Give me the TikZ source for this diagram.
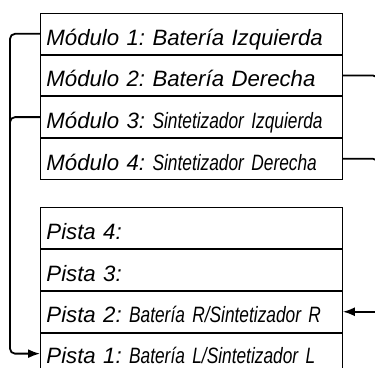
\documentclass[tikz,border=0pt]{standalone}
\usepackage{fontspec}
\setmainfont{Liberation Sans}
\newfontfamily\narrowfont[FakeStretch=0.78]{Liberation Sans}
\usetikzlibrary{positioning,arrows.meta}
\newcommand{\nrw}[1]{{\narrowfont\itshape #1}}
\frenchspacing

\begin{document}
\begin{tikzpicture}[x=1pt,y=1pt,>={Latex[length=12pt,width=9pt]},
  font=\fontsize{22.2}{26}\selectfont\itshape,
  row/.style={draw,line width=0.9pt,text width=290pt,inner xsep=6pt,inner ysep=0pt,
    minimum height=40.75pt,align=left,text height=31.5pt,text depth=9pt},
  link/.style={line width=1.8pt,rounded corners=5pt}]
\useasboundingbox (0,0) rectangle (375,367);
\clip (0,0) rectangle (375,367);
% modulos
\node[row,anchor=north west] (m1) at (40,354) {Módulo 1: Batería Izquierda};
\node[row,below=0pt of m1] (m2) {Módulo 2: Batería Derecha};
\node[row,below=0pt of m2] (m3) {Módulo 3: \nrw{Sintetizador Izquierda}};
\node[row,below=0pt of m3] (m4) {Módulo 4: \nrw{Sintetizador Derecha}};
% pistas
\node[row,minimum height=41pt,anchor=north west] (p4) at (40,160) {Pista 4:};
\node[row,minimum height=41pt,below=0pt of p4] (p3) {Pista 3:};
\node[row,minimum height=41pt,below=0pt of p3] (p2) {Pista 2: \nrw{Batería R/Sintetizador R}};
\node[row,minimum height=41pt,below=0pt of p2,text depth=10.5pt,text height=30pt] (p1) {Pista 1: \nrw{Batería L/Sintetizador L}};
% conexiones
\coordinate (izq) at (10,0);
\coordinate (der) at (378,0);
\draw[link,->] (m1.west) -- (m1.west -| izq) -- (p1.west -| izq) -- (p1.west);
\draw[link] (m3.west) -- (m3.west -| izq) -- ([yshift=-15pt]m3.west -| izq);
\draw[link] (m2.east) -- (m2.east -| der) -- ([yshift=-20pt]m2.east -| der);
\draw[link] (m4.east) -- (m4.east -| der) -- ([yshift=-20pt]m4.east -| der);
\draw[link,->] (p2.east -| der) -- (p2.east);
\end{tikzpicture}
\end{document}
